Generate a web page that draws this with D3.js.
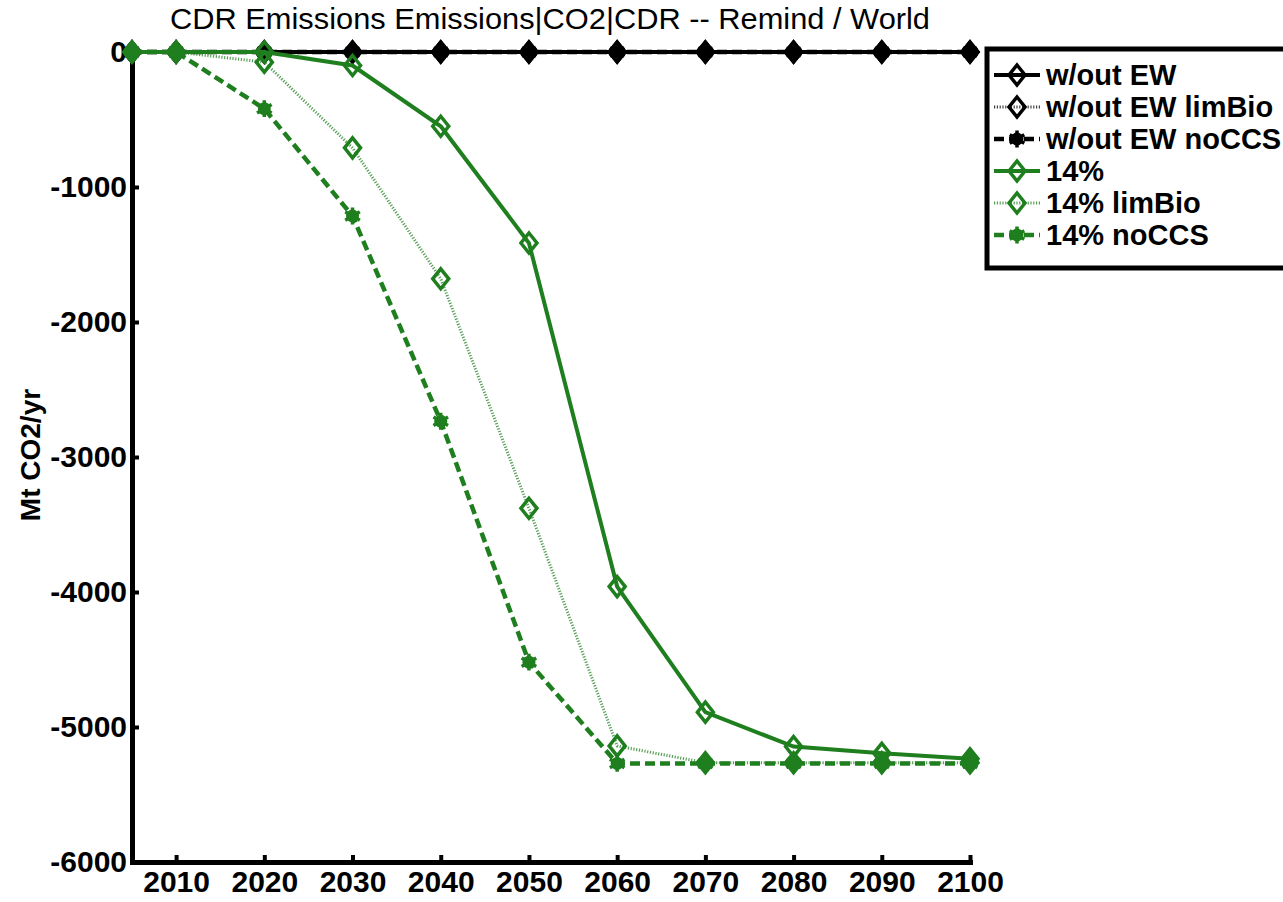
<!DOCTYPE html>
<html lang="en">
<head>
<meta charset="UTF-8">
<title>CDR Emissions</title>
<script src="https://d3js.org/d3.v7.min.js"></script>
<style>
  body { margin: 0; background: #fff; }
  svg text { font-family: Arial, "Liberation Sans", sans-serif; }
</style>
</head>
<body>
<div id="chart"></div>
<script>
// data (Mt CO2/yr)
const years = [2005, 2010, 2020, 2030, 2040, 2050, 2060, 2070, 2080, 2090, 2100]
const noEW        = [0, 0, 0, 0, 0, 0, 0, 0, 0, 0, 0]
const noEWLimBio  = [0, 0, 0, 0, 0, 0, 0, 0, 0, 0, 0]
const noEWNoCCS   = [0, 0, 0, 0, 0, 0, 0, 0, 0, 0, 0]
const ew14        = [0, 0, 0, -100, -550, -1415, -3960, -4890, -5145, -5195, -5235]
const ew14LimBio  = [0, 0, -75, -710, -1680, -3380, -5140, -5265, -5265, -5265, -5265]
const ew14NoCCS   = [0, 0, -420, -1215, -2735, -4520, -5270, -5270, -5270, -5270, -5270]
const xTicks = [2010, 2020, 2030, 2040, 2050, 2060, 2070, 2080, 2090, 2100]
const yTicks = [0, -1000, -2000, -3000, -4000, -5000, -6000]

const green = "#1f7f1f"
const series = [
  {name: "w/out EW",        values: noEW,       color: "#000", style: "solid",  marker: "diamond"},
  {name: "w/out EW limBio", values: noEWLimBio, color: "#000", style: "dotted", marker: "diamond"},
  {name: "w/out EW noCCS",  values: noEWNoCCS,  color: "#000", style: "dashed", marker: "star"},
  {name: "14%",             values: ew14,       color: green,  style: "solid",  marker: "diamond"},
  {name: "14% limBio",      values: ew14LimBio, color: green,  style: "dotted", marker: "diamond"},
  {name: "14% noCCS",       values: ew14NoCCS,  color: green,  style: "dashed", marker: "star"}
]

const width = 1283, height = 902
const svg = d3.select("#chart").append("svg")
    .attr("width", width)
    .attr("height", height)

const x = d3.scaleLinear().domain([2005, 2100]).range([132, 970])
const y = d3.scaleLinear().domain([-6000, 0]).range([862, 52])

// line styles
function lineStyle(sel, s) {
  sel.attr("stroke", s.color).attr("fill", "none")
  if (s.style == "solid") sel.attr("stroke-width", 4)
  if (s.style == "dotted") sel.attr("stroke-width", 3).attr("stroke-dasharray", "1.2,1.6").attr("stroke-opacity", 0.75)
  if (s.style == "dashed") sel.attr("stroke-width", 4.5).attr("stroke-dasharray", "10,5")
}

const diamond = "M0,-10L8,0L0,10L-8,0Z"
function drawMarker(g, s, cx, cy) {
  const m = g.append("g").attr("transform", "translate(" + cx + "," + cy + ")")
  if (s.marker == "diamond") {
    m.append("path").attr("d", diamond)
      .attr("fill", "none").attr("stroke", s.color).attr("stroke-width", 3.5)
  } else {
    m.append("circle").attr("r", 6.5).attr("fill", s.color)
    m.append("path").attr("d", d3.symbol(d3.symbolAsterisk, 200)())
      .attr("stroke", s.color).attr("stroke-width", 3.5).attr("fill", "none")
  }
}

// axes
const yAxis = svg.append("g")
    .attr("transform", "translate(132,0)")
    .call(d3.axisLeft(y).tickValues(yTicks).tickFormat(d => String(d)).tickSizeInner(-7).tickSizeOuter(0).tickPadding(5))
const xAxis = svg.append("g")
    .attr("transform", "translate(0,862)")
    .call(d3.axisBottom(x).tickValues(xTicks).tickFormat(d3.format("d")).tickSizeInner(-7).tickSizeOuter(0).tickPadding(9))

for (const ax of [xAxis, yAxis]) {
  ax.select(".domain").attr("stroke", "#000").attr("stroke-width", 5).attr("stroke-linecap", "square")
  ax.selectAll(".tick line").attr("stroke", "#000").attr("stroke-width", 4)
  ax.selectAll(".tick text").attr("fill", "#000")
    .style("font-size", "30px").style("font-weight", "bold")
    .style("font-family", "Arial, 'Liberation Sans', sans-serif")
}

// lines + markers
const line = d3.line().x((d, i) => x(years[i])).y(d => y(d))
series.forEach(function(s) {
  svg.append("path").datum(s.values).attr("d", line).call(lineStyle, s)
  const g = svg.append("g")
  s.values.forEach((v, i) => drawMarker(g, s, x(years[i]), y(v)))
})

// title + y label
svg.append("text")
    .attr("x", 550).attr("y", 29)
    .attr("text-anchor", "middle")
    .attr("textLength", 760).attr("lengthAdjust", "spacingAndGlyphs")
    .style("font-size", "30px")
    .text("CDR Emissions Emissions|CO2|CDR -- Remind / World")

svg.append("text")
    .attr("transform", "translate(40,455) rotate(-90)")
    .attr("text-anchor", "middle")
    .style("font-size", "28px")
    .style("font-weight", "bold")
    .text("Mt CO2/yr")

// legend
const legend = svg.append("g")
legend.append("rect")
    .attr("x", 987).attr("y", 49).attr("width", 330).attr("height", 219)
    .attr("fill", "#fff").attr("stroke", "#000").attr("stroke-width", 5)

series.forEach(function(s, i) {
  const cy = 75 + i * 32
  legend.append("line").attr("x1", 994).attr("x2", 1040).attr("y1", cy).attr("y2", cy).call(lineStyle, s)
  drawMarker(legend, s, 1017, cy)
  legend.append("text")
      .attr("x", 1046).attr("y", cy).attr("dy", "0.36em")
      .style("font-size", "29px")
      .style("font-weight", "bold")
      .text(s.name)
})
</script>
</body>
</html>
